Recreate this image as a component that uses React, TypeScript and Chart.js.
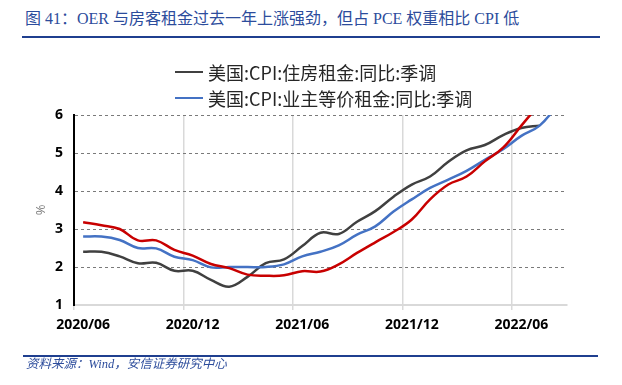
import React, { useEffect, useRef } from "react";
import { Chart, registerables } from "chart.js";

Chart.register(...registerables);

const months = [
  "2020/06", "2020/07", "2020/08", "2020/09", "2020/10", "2020/11",
  "2020/12", "2021/01", "2021/02", "2021/03", "2021/04", "2021/05",
  "2021/06", "2021/07", "2021/08", "2021/09", "2021/10", "2021/11",
  "2021/12", "2022/01", "2022/02", "2022/03", "2022/04", "2022/05",
  "2022/06", "2022/07", "2022/08",
];

const rentPrimary = [
  2.40, 2.40, 2.28, 2.10, 2.11, 1.90, 1.90, 1.66, 1.48, 1.74, 2.10, 2.20,
  2.55, 2.90, 2.87, 3.19, 3.47, 3.85, 4.17, 4.38, 4.77, 5.07, 5.21, 5.47,
  5.66, 5.72, null,
];

const ownersEquivalentRent = [
  2.80, 2.80, 2.71, 2.50, 2.49, 2.27, 2.18, 1.99, 2.00, 2.00, 2.00, 2.07,
  2.28, 2.40, 2.57, 2.85, 3.07, 3.46, 3.78, 4.08, 4.30, 4.53, 4.82, 5.10,
  5.45, 5.72, 6.27,
];

const redSeries = [
  3.18, 3.10, 3.00, 2.70, 2.70, 2.45, 2.30, 2.08, 1.97, 1.80, 1.77, 1.78,
  1.89, 1.88, 2.07, 2.37, 2.65, 2.92, 3.25, 3.78, 4.17, 4.38, 4.78, 5.14,
  5.72, 6.30, null,
];

const legendLabels = ["美国:CPI:住房租金:同比:季调", "美国:CPI:业主等价租金:同比:季调"];
const titleText = "图 41：OER 与房客租金过去一年上涨强劲，但占 PCE 权重相比 CPI 低";
const sourceText = "资料来源：Wind，安信证券研究中心";

const COLORS = { black: "#404040", blue: "#4472C4", red: "#C80000" };

export default function App() {
  const ref = useRef<HTMLCanvasElement | null>(null);

  useEffect(() => {
    if (!ref.current) return;
    const chart = new Chart(ref.current, {
      type: "line",
      data: {
        labels: months,
        datasets: [
          { label: "red", data: redSeries, borderColor: COLORS.red, borderWidth: 2.5, pointRadius: 0, tension: 0.4, clip: 0, order: 0 },
          { label: legendLabels[1], data: ownersEquivalentRent, borderColor: COLORS.blue, borderWidth: 2.5, pointRadius: 0, tension: 0.4, clip: 0, order: 1 },
          { label: legendLabels[0], data: rentPrimary, borderColor: COLORS.black, borderWidth: 2.5, pointRadius: 0, tension: 0.4, clip: 0, order: 2 },
        ],
      },
      options: {
        animation: false,
        responsive: false,
        layout: { padding: { left: 0, right: 55, top: 115, bottom: 50 } },
        plugins: { legend: { display: false }, tooltip: { enabled: false } },
        scales: {
          x: {
            type: "category",
            offset: true,
            afterFit: (s: any) => { s.height = 30; },
            grid: {
              offset: true,
              drawTicks: true,
              tickLength: 5,
              lineWidth: 1.5,
              color: (ctx: any) => (ctx.index % 6 === 0 && ctx.index > 0 && ctx.index < months.length ? "#d9d9d9" : "rgba(0,0,0,0)"),
              tickColor: (ctx: any) => (ctx.index % 6 === 0 && ctx.index < months.length ? "#d9d9d9" : "rgba(0,0,0,0)"),
            },
            border: { display: true, color: "#d9d9d9", width: 2 },
            ticks: {
              autoSkip: false,
              maxRotation: 0,
              minRotation: 0,
              padding: 7,
              color: "#000",
              font: { family: "Open Sans", size: 14, weight: "bold" },
              callback: (_v: any, i: number) => (i % 6 === 0 ? months[i] : ""),
            },
          },
          y: {
            min: 1,
            max: 6,
            afterFit: (s: any) => { s.width = 74; },
            ticks: {
              stepSize: 1,
              padding: 11,
              color: "#000",
              font: { family: "Open Sans", size: 14, weight: "bold" },
            },
            grid: {
              drawTicks: false,
              lineWidth: 1,
              color: (ctx: any) => (ctx.tick && ctx.tick.value === 1 ? "rgba(0,0,0,0)" : "#7a7a7a"),
            },
            border: { display: true, color: "#000", width: 2, dash: [3, 3] },
            title: {
              display: true,
              text: "%",
              color: "#808080",
              font: { family: "Open Sans", size: 13 },
              padding: { top: 33, bottom: 0 },
            },
          },
        },
      },
    } as any);
    return () => chart.destroy();
  }, []);

  const blue = "#2C4C9C";
  return (
    <div style={{ position: "absolute", left: 0, top: 0, width: 622, height: 385, background: "#fff", overflow: "hidden" }}>
      <div style={{ position: "absolute", left: 25, top: 9, fontFamily: "'Liberation Serif', 'Noto Sans CJK SC', serif", fontSize: 16, lineHeight: "20px", color: blue, whiteSpace: "nowrap" }}>
        {titleText}
      </div>
      <div style={{ position: "absolute", left: 22, top: 36, width: 578, height: 2, background: "#1F3F8F" }} />
      <canvas ref={ref} width={622} height={385} style={{ position: "absolute", left: 0, top: 0, width: 622, height: 385 }} />
      {[0, 1].map((k) => (
        <div key={k} style={{ position: "absolute", left: 175, top: (k === 0 ? 72 : 98) - 13, height: 26, display: "flex", alignItems: "center", whiteSpace: "nowrap" }}>
          <span style={{ display: "inline-block", width: 28, height: 2.5, background: k === 0 ? COLORS.black : COLORS.blue }} />
          <span style={{ marginLeft: 5, fontFamily: "'Noto Sans CJK SC', sans-serif", fontSize: 18, lineHeight: "26px", color: "#262626" }}>{legendLabels[k]}</span>
        </div>
      ))}
      <div style={{ position: "absolute", left: 23, top: 355, width: 575, height: 2, background: "#1F3F8F" }} />
      <div style={{ position: "absolute", left: 26, top: 357, fontFamily: "'Liberation Serif', 'Noto Sans CJK SC', serif", fontStyle: "italic", fontSize: 12.5, lineHeight: "15px", color: blue, whiteSpace: "nowrap" }}>
        {sourceText}
      </div>
    </div>
  );
}
